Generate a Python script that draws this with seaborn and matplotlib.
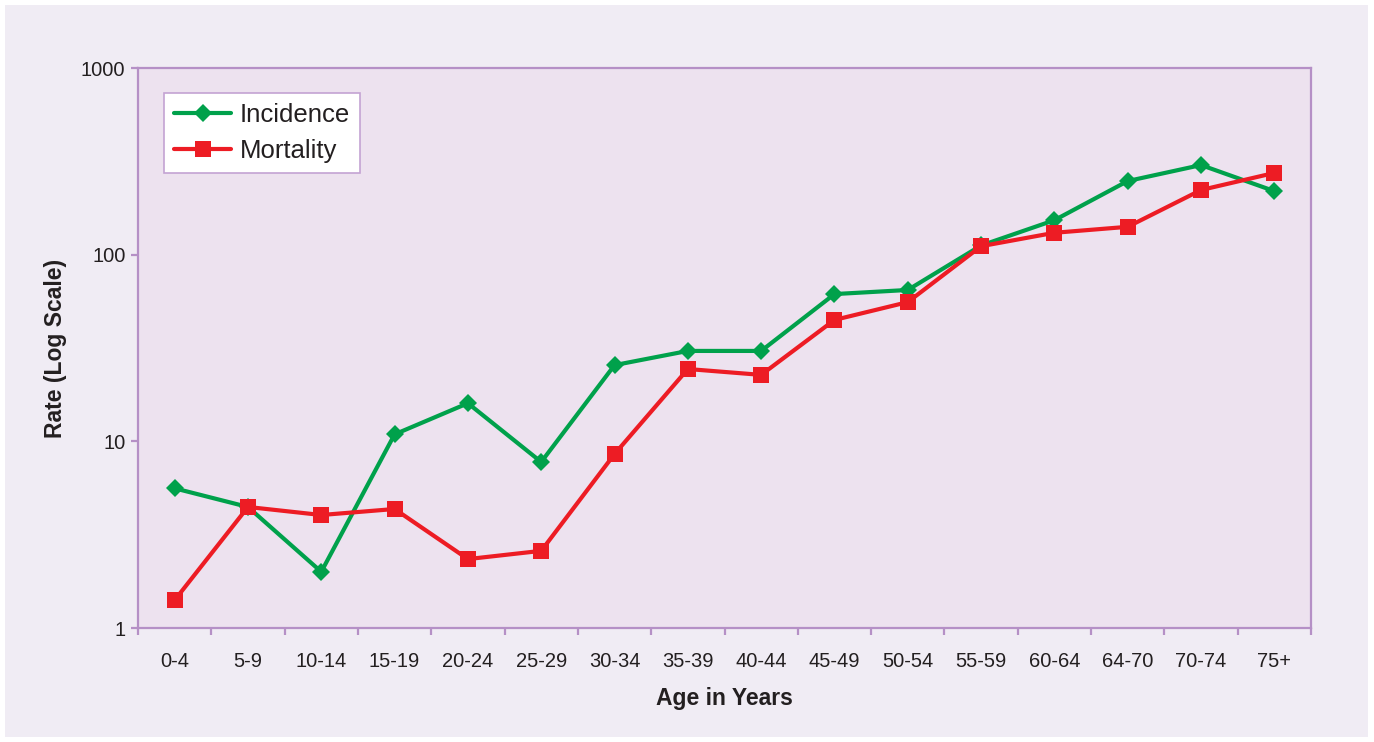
import numpy as np
import pandas as pd
import matplotlib
matplotlib.use("Agg")
import matplotlib.pyplot as plt
from matplotlib.patches import Rectangle
import seaborn as sns

categories = ["0-4", "5-9", "10-14", "15-19", "20-24", "25-29", "30-34", "35-39",
              "40-44", "45-49", "50-54", "55-59", "60-64", "64-70", "70-74", "75+"]
incidence = [5.6, 4.45, 2.0, 10.9, 16.0, 7.75, 25.6, 30.5,
             30.5, 61.5, 64.7, 112, 153, 248, 302, 219]
mortality = [1.41, 4.45, 4.03, 4.34, 2.34, 2.59, 8.55, 24.4,
             22.7, 44.7, 55.7, 111, 131, 141, 222, 274]
yticks = [1, 10, 100, 1000]

sns.set_theme(style="white")
plt.rcParams["font.family"] = ["Liberation Sans", "DejaVu Sans"]

fig = plt.figure(figsize=(13.74, 7.42), dpi=100, facecolor="white")
fig.patches.append(Rectangle((5 / 1374, 5 / 742), 1363 / 1374, 732 / 742,
                             transform=fig.transFigure, facecolor="#F0ECF4",
                             edgecolor="none", zorder=-10))
ax = fig.add_axes([138 / 1374, 1 - 628 / 742, (1311 - 138) / 1374, (628 - 68) / 742])
ax.set_facecolor("#EDE2EF")

pos = np.arange(len(categories))
df = pd.DataFrame({"pos": pos, "Incidence": incidence, "Mortality": mortality})

green = "#00A14B"
red = "#ED1C24"
sns.lineplot(data=df, x="pos", y="Incidence", ax=ax, color=green, linewidth=3,
             marker="D", markersize=9, markeredgewidth=0, label="Incidence")
sns.lineplot(data=df, x="pos", y="Mortality", ax=ax, color=red, linewidth=3,
             marker="s", markersize=11, markeredgewidth=0, label="Mortality")

ax.set_yscale("log")
ax.set_ylim(1, 1000)
ax.set_xlim(-0.5, len(categories) - 0.5)
ax.set_yticks(yticks)
ax.set_yticklabels([str(v) for v in yticks])
ax.yaxis.set_minor_locator(matplotlib.ticker.NullLocator())

ax.set_xticks(np.arange(-0.5, len(categories)), labels=[""] * (len(categories) + 1))
ax.set_xticks(pos, labels=categories, minor=True)

spine_color = "#B590C6"
for s in ax.spines.values():
    s.set_color(spine_color)
    s.set_linewidth(1.6)

ax.tick_params(axis="x", which="major", direction="out", length=5, width=1.6,
               color=spine_color, bottom=True)
ax.tick_params(axis="x", which="minor", length=0, pad=17, labelsize=14.5,
               labelcolor="#231F20", bottom=True)
ax.tick_params(axis="y", which="major", direction="out", length=5, width=1.6,
               color=spine_color, left=True, pad=4, labelsize=14.5, labelcolor="#231F20")

ax.set_xlabel("Age in Years", fontsize=16.5, fontweight="bold", color="#231F20", labelpad=12)
ax.set_ylabel("Rate (Log Scale)", fontsize=16.5, fontweight="bold", color="#231F20", labelpad=10)

leg = ax.legend(loc="upper left", bbox_to_anchor=(26 / 1173, 1 - 25 / 560),
                fontsize=18.5, frameon=True, fancybox=False, handlelength=2.2,
                handletextpad=0.35, borderpad=0.4, labelspacing=0.45,
                borderaxespad=0)
leg.get_frame().set_edgecolor("#C4A3D3")
leg.get_frame().set_linewidth(1.2)
leg.get_frame().set_facecolor("white")
leg.get_frame().set_alpha(1)
for t in leg.get_texts():
    t.set_color("#231F20")

fig.savefig("out.png", dpi=100, facecolor=fig.get_facecolor())
